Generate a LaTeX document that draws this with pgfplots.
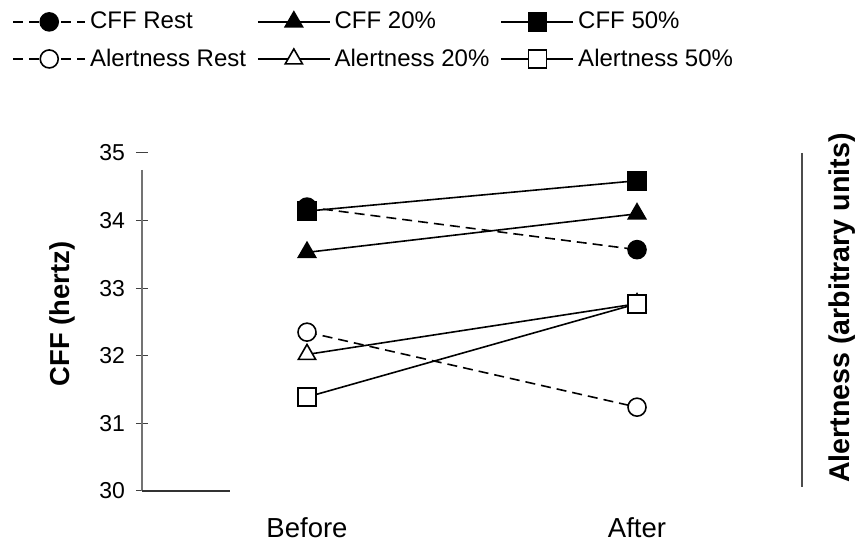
\documentclass[border=0pt]{standalone}
\usepackage{pgfplots}
\pgfplotsset{compat=1.18}
\usepackage{fontspec}
\setmainfont{Liberation Sans}
\begin{document}
\begin{tikzpicture}
\useasboundingbox (-71pt,-26.5pt) rectangle (356.5pt,245.5pt);
\begin{axis}[
  at={(0,0)}, anchor=south west,
  scale only axis, width=330pt, height=169pt,
  xmin=0.5, xmax=2.5, ymin=30, ymax=35,
  clip=false,
  axis line style={draw=none},
  xtick={1,2}, xticklabels={Before,After},
  xtick style={draw=none},
  xticklabel style={font=\fontsize{13.75}{16}\selectfont, yshift=-7pt},
  ytick={30,31,32,33,34,35},
  ytick pos=left,
  ytick style={black!75, line width=0.5pt},
  tick align=center,
  major tick length=6pt,
  yticklabel style={font=\fontsize{11.5}{13}\selectfont, xshift=-2pt},
  /pgf/number format/assume math mode=true,
  legend columns=3,
  legend style={draw=none, fill=none, at={(axis description cs:-0.206,1.442)}, anchor=north west, font=\fontsize{12}{14}\selectfont, row sep=4.5pt},
  legend cell align=left,
  legend image code/.code={\draw[mark repeat=2,mark phase=2,#1] plot coordinates {(0pt,0pt)(18pt,0pt)(36pt,0pt)};},
]
\draw[black!55, line width=0.6pt] (axis cs:0.5,34.75) -- (axis cs:0.5,30);
\draw[black!80, line width=0.6pt] (axis cs:0.5,30) -- (axis cs:0.767,30);
\draw[black!70, line width=0.6pt] (axis cs:2.5,35) -- (axis cs:2.5,30.06);

\addplot[black, line width=0.8pt, dash pattern=on 5pt off 3pt, mark=*, mark size=4.5pt, mark options={solid, fill=black}] coordinates {(1,34.2) (2,33.57)};
\addlegendentry{\makebox[81.5pt][l]{CFF Rest}}
\addplot[black, line width=0.8pt, mark=triangle*, mark size=5pt, mark options={solid, fill=black}] coordinates {(1,33.53) (2,34.1)};
\addlegendentry{\makebox[81pt][l]{CFF 20\%}}
\addplot[black, line width=0.8pt, mark=square*, mark size=4.5pt, mark options={solid, fill=black}] coordinates {(1,34.14) (2,34.59)};
\addlegendentry{CFF 50\%}
\addplot[black, line width=0.8pt, dash pattern=on 5pt off 3pt, mark=*, mark size=4.5pt, mark options={solid, fill=white}] coordinates {(1,32.35) (2,31.24)};
\addlegendentry{\makebox[81.5pt][l]{Alertness Rest}}
\addplot[black, line width=0.8pt, mark=triangle*, mark size=5pt, mark options={solid, fill=white}] coordinates {(1,32.02) (2,32.77)};
\addlegendentry{\makebox[81pt][l]{Alertness 20\%}}
\addplot[black, line width=0.8pt, mark=square*, mark size=4.5pt, mark options={solid, fill=white}] coordinates {(1,31.39) (2,32.77)};
\addlegendentry{Alertness 50\%}

\node[rotate=90, font=\bfseries\fontsize{13.7}{15}\selectfont] at (axis description cs:-0.120,0.524) {CFF (hertz)};
\node[rotate=90, font=\bfseries\fontsize{14.3}{16}\selectfont] at (axis description cs:1.061,0.541) {Alertness (arbitrary units)};
\end{axis}
\end{tikzpicture}
\end{document}
